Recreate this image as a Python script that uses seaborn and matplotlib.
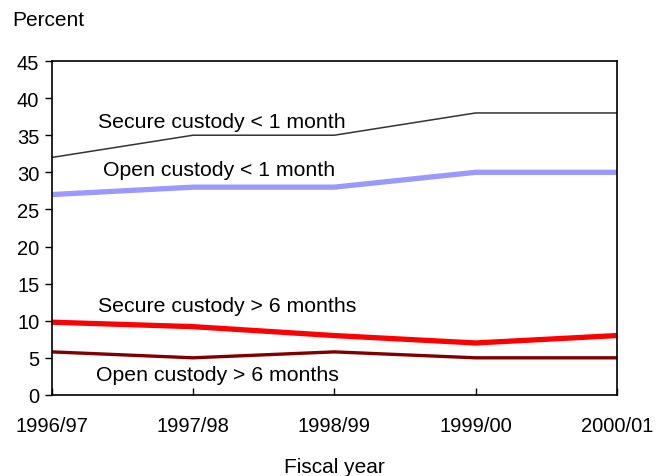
import pandas as pd
import matplotlib.pyplot as plt
import seaborn as sns

# Data
years = ["1996/97", "1997/98", "1998/99", "1999/00", "2000/01"]
secure_lt1 = [32, 35, 35, 38, 38]
open_lt1 = [27, 28, 28, 30, 30]
secure_gt6 = [9.8, 9.2, 8, 7, 8]
open_gt6 = [5.8, 5, 5.8, 5, 5]

series = {
    "Secure custody < 1 month": (secure_lt1, "#333333", 1.1),
    "Open custody < 1 month": (open_lt1, "#9999FF", 3.8),
    "Secure custody > 6 months": (secure_gt6, "#FF0000", 3.8),
    "Open custody > 6 months": (open_gt6, "#800000", 2.4),
}

sns.set_style("white")
plt.rcParams["font.family"] = ["Liberation Sans", "DejaVu Sans"]
plt.rcParams.update({"text.color": "black", "axes.labelcolor": "black",
                     "xtick.color": "black", "ytick.color": "black"})

fig = plt.figure(figsize=(6.64, 4.77), dpi=100)
ax = fig.add_axes([0.078, 0.170, 0.851, 0.700])

for name, (vals, color, lw) in series.items():
    df = pd.DataFrame({"year": range(len(years)), "value": vals})
    sns.lineplot(data=df, x="year", y="value", color=color, linewidth=lw, ax=ax)

# Line labels
ax.text(0.33, 36.9, "Secure custody < 1 month", fontsize=15.3, va="center")
ax.text(0.36, 30.4, "Open custody < 1 month", fontsize=15.3, va="center")
ax.text(0.33, 12.0, "Secure custody > 6 months", fontsize=15.3, va="center")
ax.text(0.31, 2.8, "Open custody > 6 months", fontsize=15.3, va="center")

ax.set_xlim(0, len(years) - 1)
ax.set_ylim(0, 45)
ax.set_yticks(range(0, 46, 5))
ax.set_xticks(range(len(years)))
ax.set_xticklabels(years)
ax.tick_params(axis="y", direction="out", length=5, width=1, labelsize=14.5, left=True, pad=4)
ax.tick_params(axis="x", direction="in", length=5, width=1, labelsize=14.5, bottom=True, pad=15)
for s in ax.spines.values():
    s.set_color("black")
    s.set_linewidth(1.2)

ax.set_xlabel("Fiscal year", fontsize=15, labelpad=16)
ax.set_ylabel("")
fig.text(0.018, 0.957, "Percent", fontsize=15, va="center")

fig.savefig("out.png", dpi=100)
